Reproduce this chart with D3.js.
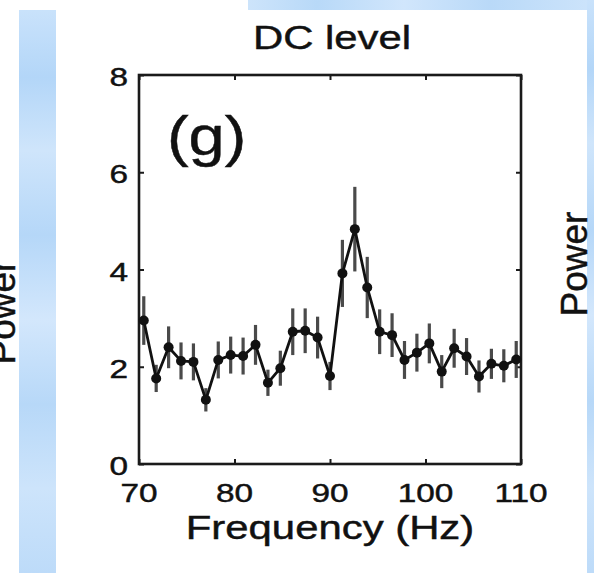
<!DOCTYPE html>
<html>
<head>
<meta charset="utf-8">
<script src="https://cdn.jsdelivr.net/npm/d3@7"></script>
<style>
  html, body { margin: 0; padding: 0; background: #fff; }
  svg { display: block; }
  text { font-family: "Liberation Sans", Arial, Helvetica, sans-serif; fill: #111; stroke: #111; stroke-width: 0.45px; }
</style>
</head>
<body>
<svg id="chart" width="594" height="573"></svg>
<script>
// ---- data ----
const frequencies = [70.5, 71.8, 73.1, 74.4, 75.7, 77.0, 78.3, 79.6, 80.9, 82.2, 83.5, 84.8, 86.1, 87.4, 88.7, 90.0, 91.3, 92.6, 93.9, 95.2, 96.5, 97.8, 99.1, 100.4, 101.7, 103.0, 104.3, 105.6, 106.9, 108.2, 109.5];
const powerValues = [2.95, 1.76, 2.40, 2.12, 2.10, 1.32, 2.14, 2.24, 2.22, 2.45, 1.67, 1.97, 2.72, 2.74, 2.60, 1.81, 3.92, 4.83, 3.63, 2.72, 2.65, 2.14, 2.29, 2.48, 1.90, 2.38, 2.21, 1.80, 2.06, 2.02, 2.15];
const powerErrors = [0.50, 0.28, 0.43, 0.38, 0.38, 0.24, 0.38, 0.38, 0.38, 0.41, 0.27, 0.36, 0.48, 0.46, 0.43, 0.29, 0.69, 0.87, 0.63, 0.46, 0.45, 0.39, 0.39, 0.41, 0.34, 0.40, 0.38, 0.33, 0.31, 0.34, 0.38];
const xTickValues = [70, 80, 90, 100, 110];
const yTickValues = [0, 2, 4, 6, 8];
const titleText = "DC level";
const xLabelText = "Frequency (Hz)";
const yLabelText = "Power";
const panelLabel = "(g)";

// ---- layout ----
const svg = d3.select("#chart");
const W = 594, H = 573;
const plot = { left: 139, right: 521, top: 75, bottom: 464 };
const stretch = 1.26;

// background decoration (blue strips of the slide)
const defs = svg.append("defs");
const g1 = defs.append("linearGradient").attr("id", "blueV").attr("x1", 0).attr("y1", 0).attr("x2", 0).attr("y2", 1);
[[0, "#c9e2fb"], [0.12, "#b3d6f8"], [0.25, "#cfe5fb"], [0.4, "#b5d7f8"], [0.55, "#d3e7fc"], [0.7, "#b7d8f8"], [0.85, "#cde4fb"], [1, "#bddbf9"]]
  .forEach(([o, c]) => g1.append("stop").attr("offset", o).attr("stop-color", c));
const g2 = defs.append("linearGradient").attr("id", "blueH").attr("x1", 0).attr("y1", 0).attr("x2", 1).attr("y2", 0);
[[0, "#cde4fb"], [0.2, "#b8d9f8"], [0.45, "#d1e6fc"], [0.7, "#b9d9f8"], [1, "#cde4fb"]]
  .forEach(([o, c]) => g2.append("stop").attr("offset", o).attr("stop-color", c));

svg.append("rect").attr("x", 0).attr("y", 0).attr("width", W).attr("height", H).attr("fill", "#fff");
svg.append("rect").attr("x", 19).attr("y", 10).attr("width", 37).attr("height", H - 10).attr("fill", "url(#blueV)");
svg.append("rect").attr("x", 248).attr("y", 0).attr("width", W - 248).attr("height", 10).attr("fill", "url(#blueH)");
svg.append("rect").attr("x", 587).attr("y", 0).attr("width", 7).attr("height", H).attr("fill", "url(#blueV)");

// partial neighbouring y-labels (cut by the image edge, as in the source)
svg.append("text").attr("transform", "translate(15,312) rotate(-90)")
  .attr("text-anchor", "middle").attr("font-size", 37).text(yLabelText);
svg.append("text").attr("transform", "translate(587,264) rotate(-90)")
  .attr("text-anchor", "middle").attr("font-size", 37).text(yLabelText);

// ---- scales ----
const x = d3.scaleLinear().domain([70, 110]).range([plot.left, plot.right]);
const y = d3.scaleLinear().domain([0, 8]).range([plot.bottom, plot.top]);

// box
svg.append("rect").attr("x", plot.left).attr("y", plot.top)
  .attr("width", plot.right - plot.left).attr("height", plot.bottom - plot.top)
  .attr("fill", "none").attr("stroke", "#1a1a1a").attr("stroke-width", 2.6);

// inward ticks using d3 axes
const tickLen = 5;
const axB = svg.append("g").attr("transform", `translate(0,${plot.bottom})`)
  .call(d3.axisTop(x).tickValues(xTickValues).tickSize(tickLen).tickFormat(""));
const axT = svg.append("g").attr("transform", `translate(0,${plot.top})`)
  .call(d3.axisBottom(x).tickValues(xTickValues).tickSize(tickLen).tickFormat(""));
const axL = svg.append("g").attr("transform", `translate(${plot.left},0)`)
  .call(d3.axisRight(y).tickValues(yTickValues).tickSize(tickLen).tickFormat(""));
const axR = svg.append("g").attr("transform", `translate(${plot.right},0)`)
  .call(d3.axisLeft(y).tickValues(yTickValues).tickSize(tickLen).tickFormat(""));
[axB, axT, axL, axR].forEach(a => {
  a.select(".domain").remove();
  a.selectAll("line").attr("stroke", "#1a1a1a").attr("stroke-width", 2);
});

// tick labels
svg.selectAll(".xtl").data(xTickValues).enter().append("text")
  .attr("class", "xtl")
  .attr("transform", d => `translate(${x(d)},502) scale(${stretch},1)`)
  .attr("text-anchor", "middle").attr("font-size", 26.5).text(d => d);
svg.selectAll(".ytl").data(yTickValues).enter().append("text")
  .attr("class", "ytl")
  .attr("transform", d => `translate(128,${y(d) + 11}) scale(${stretch},1)`)
  .attr("text-anchor", "end").attr("font-size", 26.5).text(d => d);

// titles
svg.append("text").attr("transform", `translate(332,49) scale(1.25,1)`)
  .attr("text-anchor", "middle").attr("font-size", 33.5).text(titleText);
svg.append("text").attr("transform", `translate(330,539) scale(1.25,1)`)
  .attr("text-anchor", "middle").attr("font-size", 33.5).text(xLabelText);
svg.append("text").attr("transform", `translate(167,155) scale(1.18,1)`)
  .attr("text-anchor", "start").attr("font-size", 55).text(panelLabel);

// ---- data marks ----
const data = frequencies.map((f, i) => ({ f, v: powerValues[i], e: powerErrors[i] }));

svg.append("g").selectAll("line").data(data).enter().append("line")
  .attr("x1", d => x(d.f)).attr("x2", d => x(d.f))
  .attr("y1", d => y(d.v + d.e)).attr("y2", d => y(d.v - d.e))
  .attr("stroke", "#4a4a4a").attr("stroke-width", 3.2);

svg.append("path").datum(data)
  .attr("d", d3.line().x(d => x(d.f)).y(d => y(d.v)))
  .attr("fill", "none").attr("stroke", "#111").attr("stroke-width", 2.8)
  .attr("stroke-linejoin", "round");

svg.append("g").selectAll("circle").data(data).enter().append("circle")
  .attr("cx", d => x(d.f)).attr("cy", d => y(d.v)).attr("r", 5)
  .attr("fill", "#111");
</script>
</body>
</html>
